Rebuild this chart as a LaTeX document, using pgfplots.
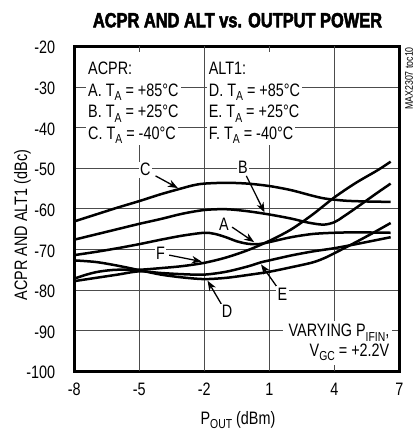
\documentclass[border=0pt]{standalone}
\usepackage{fontspec}
\setmainfont{Liberation Sans}[FakeStretch=0.8]
\newfontfamily\titlefont{Liberation Sans Bold}[FakeStretch=0.8,FakeBold=2.5]
\usepackage{pgfplots}
\pgfplotsset{compat=1.18}
\usetikzlibrary{arrows.meta}

% lowered, smaller subscript set in the text font
\newcommand\sub[1]{\raisebox{-0.24em}{\fontsize{13bp}{13bp}\selectfont #1}}

\begin{document}
\begin{tikzpicture}[x=1bp,y=1bp]
\path[use as bounding box] (0,0) rectangle (415,434);

\begin{axis}[
  at={(74.3bp,62.7bp)}, anchor=south west,
  width=325bp, height=325bp, scale only axis,
  xmin=-8, xmax=7, ymin=-100, ymax=-20,
  xtick={-8,-5,-2,1,4,7}, xticklabels={-8,-5,-2,1,4,7},
  ytick={-100,-90,-80,-70,-60,-50,-40,-30,-20},
  yticklabels={-100,-90,-80,-70,-60,-50,-40,-30,-20},
  major tick length=0pt,
  ymajorgrids, grid style={black!70, line width=0.8bp},
  axis line style={line width=2.6bp},
  tick label style={font=\fontsize{18bp}{18bp}\selectfont, inner sep=0pt},
  yticklabel style={xshift=-19bp, yshift=-1.5bp},
  xticklabel style={yshift=-11.5bp},
]

% vertical grid lines (the ones at -5 and 1 stop below the legend block)
\draw[black!70, line width=0.8bp] (axis cs:-5,-100) -- (axis cs:-5,-43.5);
\draw[black!70, line width=0.8bp] (axis cs:-5,-20) -- (axis cs:-5,-21.5);
\draw[black!70, line width=0.8bp] (axis cs:-2,-100) -- (axis cs:-2,-20);
\draw[black!70, line width=0.8bp] (axis cs:1,-100) -- (axis cs:1,-43.5);
\draw[black!70, line width=0.8bp] (axis cs:1,-20) -- (axis cs:1,-21.5);
\draw[black!70, line width=0.8bp] (axis cs:4,-100) -- (axis cs:4,-20);

% ACPR, TA = -40C (C)
\addplot[black, line width=2.5bp, smooth] coordinates {
 (-8,-63.1) (-7,-61.4) (-6,-59.7) (-5,-58.1) (-4,-56.4) (-3,-54.9)
 (-2.5,-54.2) (-2,-53.8) (-1,-53.6) (0,-53.8) (1,-54.4) (2,-55.4)
 (3,-56.8) (3.6,-57.5) (4.5,-58.0) (5.5,-58.2) (6.6,-58.3)};
% ACPR, TA = +25C (B)
\addplot[black, line width=2.5bp, smooth] coordinates {
 (-8,-67.6) (-7,-66.3) (-6,-65.0) (-5,-63.7) (-4,-62.5) (-3,-61.2)
 (-2,-60.3) (-1,-60.1) (0,-60.6) (1,-61.4) (2,-62.4) (2.8,-63.4)
 (3.5,-63.9) (4.0,-63.3) (4.4,-62.0) (5.0,-59.8) (5.5,-57.9)
 (6.0,-56.0) (6.6,-53.8)};
% ACPR, TA = +85C (A)
\addplot[black, line width=2.5bp, smooth] coordinates {
 (-8,-71.4) (-7,-70.6) (-6,-69.7) (-5,-68.7) (-4,-67.6) (-3,-66.6)
 (-2,-65.9) (-1.5,-66.2) (-1,-67.0) (-0.5,-68.0) (0,-68.6) (0.5,-68.7)
 (1,-68.2) (2,-67.0) (3,-66.2) (4,-65.9) (5,-65.8) (6.6,-65.9)};
% ALT1, TA = +85C (D)
\addplot[black, line width=2.5bp, smooth] coordinates {
 (-8,-72.7) (-7,-73.1) (-6,-74.0) (-5,-75.1) (-4,-76.2) (-3,-76.9)
 (-2,-77.3) (-1,-77.0) (0,-76.3) (1,-75.5) (2,-74.4) (3,-73.2)
 (3.6,-72.0) (4.2,-70.4) (5,-68.2) (5.8,-65.9) (6.6,-63.5)};
% ALT1, TA = +25C (E)
\addplot[black, line width=2.5bp, smooth] coordinates {
 (-8,-77.8) (-7,-77.0) (-6,-76.2) (-5,-75.4) (-4,-75.8) (-3,-76.1)
 (-2,-76.2) (-1,-75.5) (0,-74.2) (0.6,-73.2) (1,-72.7) (2,-71.5)
 (3,-70.5) (4,-69.7) (5,-68.7) (6.6,-67.0)};
% ALT1, TA = -40C (F)
\addplot[black, line width=2.5bp, smooth] coordinates {
 (-8,-77.2) (-7.5,-76.3) (-7,-75.6) (-6.5,-75.2) (-6,-75.0) (-5,-75.0)
 (-4,-74.6) (-3,-74.1) (-2,-73.3) (-1,-72.0) (0,-70.2) (1,-67.9)
 (2,-65.1) (3,-61.4) (4,-57.2) (5,-53.6) (6,-50.5) (6.6,-48.4)};

% legend block
\begin{scope}[every node/.style={font=\fontsize{18bp}{18bp}\selectfont,
    anchor=base west, inner xsep=2bp, inner ysep=1.5bp}]
\node at (axis cs:-7.46,-27.0) {ACPR:};
\node[fill=white] at (axis cs:-7.46,-32.4) {A. T\sub{A} = +85°C};
\node[fill=white] at (axis cs:-7.46,-37.6) {B. T\sub{A} = +25°C};
\node[fill=white] at (axis cs:-7.46,-42.9) {C. T\sub{A} = -40°C};
\node at (axis cs:-1.89,-27.0) {ALT1:};
\node[fill=white] at (axis cs:-1.89,-32.4) {D. T\sub{A} = +85°C};
\node[fill=white] at (axis cs:-1.89,-37.6) {E. T\sub{A} = +25°C};
\node[fill=white] at (axis cs:-1.89,-42.9) {F. T\sub{A} = -40°C};
\end{scope}

% conditions
\fill[white] (axis cs:1.62,-87.7) rectangle (axis cs:6.68,-98.4);
\node[font=\fontsize{18bp}{19.6bp}\selectfont, anchor=north east,
      inner sep=0pt, align=right] at (axis cs:6.55,-88.4)
  {VARYING P\sub{IFIN},\\V\sub{GC} = +2.2V};

% curve callouts
\begin{scope}[every node/.style={font=\fontsize{18bp}{18bp}\selectfont,
    fill=white, inner sep=1.5bp},
    arr/.style={line width=1.3bp, -{Stealth[length=10bp,width=7.5bp]}}]
\draw[arr] (axis cs:-4.25,-51.9) -- (axis cs:-3.22,-54.9);
\node at (axis cs:-4.72,-50.4) {C};
\draw[arr] (axis cs:-0.06,-51.9) -- (axis cs:0.78,-60.9);
\node at (axis cs:-0.22,-49.8) {B};
\draw[arr] (axis cs:-0.72,-64.5) -- (axis cs:0.30,-68.2);
\node at (axis cs:-1.10,-63.7) {A};
\draw[arr] (axis cs:-3.62,-71.4) -- (axis cs:-2.12,-73.0);
\node at (axis cs:-4.02,-70.9) {F};
\draw[arr] (axis cs:1.35,-79.2) -- (axis cs:0.62,-73.7);
\node at (axis cs:1.60,-81.0) {E};
\draw[arr] (axis cs:-1.22,-83.4) -- (axis cs:-1.85,-77.7);
\node at (axis cs:-0.95,-85.3) {D};
\end{scope}
\end{axis}

% title, axis titles and figure code
\node[anchor=base, font=\titlefont\fontsize{20.5bp}{20.5bp}\selectfont, inner sep=0pt]
  at (237.5,406.7) {ACPR AND ALT vs. OUTPUT POWER};
\node[anchor=base, font=\fontsize{18bp}{18bp}\selectfont, inner sep=0pt]
  at (238,9.7) {P\sub{OUT} (dBm)};
\node[anchor=base, rotate=90, font=\fontsize{18bp}{18bp}\selectfont, inner sep=0pt]
  at (27,209) {ACPR AND ALT1 (dBc)};
\node[anchor=east, rotate=90, font=\fontsize{11bp}{11bp}\selectfont, inner sep=0pt]
  at (409,387) {MAX2307 toc10};
\end{tikzpicture}
\end{document}
